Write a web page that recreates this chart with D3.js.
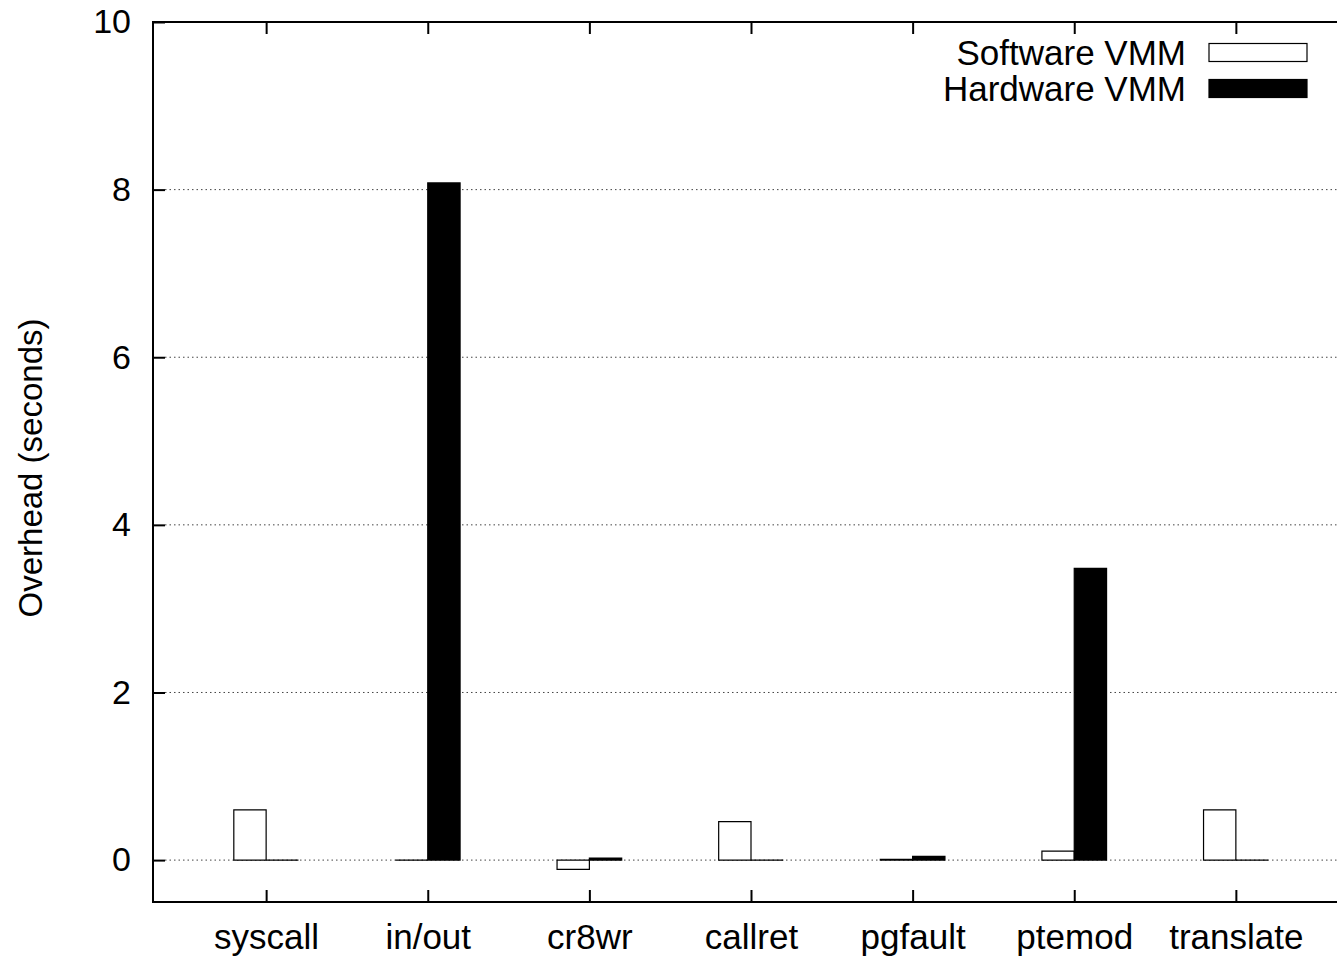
<!DOCTYPE html>
<html>
<head>
<meta charset="utf-8">
<script src="https://cdn.jsdelivr.net/npm/d3@7"></script>
<style>
  body { margin: 0; background: #fff; }
  svg { display: block; font-family: 'Liberation Sans', Arial, Helvetica, sans-serif; }
  .axis .domain { display: none; }
  .axis line { stroke: #000; stroke-width: 2; }
  .axis text { font-size: 35px; fill: #000; }
  .y-axis text { font-size: 34px; }
</style>
</head>
<body>
<div id="chart"></div>
<script>
const categories = ['syscall', 'in/out', 'cr8wr', 'callret', 'pgfault', 'ptemod', 'translate']
const softwareVMM = [0.6, 0.0, -0.11, 0.46, 0.01, 0.107, 0.6]
const hardwareVMM = [0.0, 8.08, 0.025, 0.0, 0.045, 3.48, 0.0]
const yTicks = [0, 2, 4, 6, 8, 10]
const seriesNames = ['Software VMM', 'Hardware VMM']

const width = 1337
const height = 958

const margin = { top: 22, left: 153, bottom: 902, right: 1349 }

const svg = d3
  .select('#chart')
  .append('svg')
  .attr('width', width)
  .attr('height', height)

const x = d3
  .scaleLinear()
  .domain([-0.7, 6.7])
  .range([margin.left, margin.right])

const y = d3
  .scaleLinear()
  .domain([-0.5, 10])
  .range([margin.bottom, margin.top])

// bar outline as a path so that zero values still show as a line
function barPath(x0, x1, v) {
  return 'M' + x(x0) + ',' + y(0) + 'H' + x(x1) + 'V' + y(v) + 'H' + x(x0) + 'Z'
}

// dotted grid lines
svg
  .append('g')
  .selectAll('line')
  .data(yTicks.filter(d => d < 10))
  .enter()
  .append('line')
  .attr('x1', margin.left + 12)
  .attr('x2', margin.right)
  .attr('y1', d => y(d))
  .attr('y2', d => y(d))
  .attr('stroke', '#444')
  .attr('stroke-width', 1)
  .attr('stroke-dasharray', '1.5,3')

// bars
const idx = d3.range(categories.length)

svg
  .append('g')
  .selectAll('path')
  .data(idx)
  .enter()
  .append('path')
  .attr('d', i => barPath(i - 0.2, i, softwareVMM[i]))
  .attr('fill', '#fff')
  .attr('stroke', '#000')
  .attr('stroke-width', 1.2)

svg
  .append('g')
  .selectAll('path')
  .data(idx)
  .enter()
  .append('path')
  .attr('d', i => barPath(i, i + 0.2, hardwareVMM[i]))
  .attr('fill', '#000')
  .attr('stroke', '#000')
  .attr('stroke-width', 1.2)

// axes
svg
  .append('g')
  .attr('class', 'axis y-axis')
  .attr('transform', 'translate(' + margin.left + ',0)')
  .call(d3.axisLeft(y).tickValues(yTicks).tickSize(-12).tickPadding(22))

svg
  .append('g')
  .attr('class', 'axis x-axis')
  .attr('transform', 'translate(0,' + margin.bottom + ')')
  .call(
    d3
      .axisBottom(x)
      .tickValues(idx)
      .tickFormat(i => categories[i])
      .tickSize(-12)
      .tickPadding(22)
  )

svg
  .append('g')
  .attr('class', 'axis x-top')
  .attr('transform', 'translate(0,' + margin.top + ')')
  .call(d3.axisTop(x).tickValues(idx).tickFormat('').tickSize(-12))

// frame
svg
  .append('rect')
  .attr('x', margin.left)
  .attr('y', margin.top)
  .attr('width', margin.right - margin.left)
  .attr('height', margin.bottom - margin.top)
  .attr('fill', 'none')
  .attr('stroke', '#000')
  .attr('stroke-width', 2)

// y axis title
svg
  .append('text')
  .attr('transform', 'translate(30,' + (margin.top + margin.bottom + 12) / 2 + ') rotate(-90)')
  .attr('text-anchor', 'middle')
  .attr('dominant-baseline', 'central')
  .attr('font-size', 33)
  .text('Overhead (seconds)')

// legend
const legend = svg
  .append('g')
  .selectAll('g')
  .data(seriesNames)
  .enter()
  .append('g')
  .attr('transform', (d, i) => 'translate(0,' + (52.5 + i * 36) + ')')

legend
  .append('text')
  .attr('x', 1186)
  .attr('text-anchor', 'end')
  .attr('dominant-baseline', 'central')
  .attr('font-size', 35)
  .text(d => d)

legend
  .append('rect')
  .attr('x', 1209)
  .attr('y', -9)
  .attr('width', 98)
  .attr('height', 18)
  .attr('fill', (d, i) => (i === 0 ? '#fff' : '#000'))
  .attr('stroke', '#000')
  .attr('stroke-width', 1.2)
</script>
</body>
</html>
